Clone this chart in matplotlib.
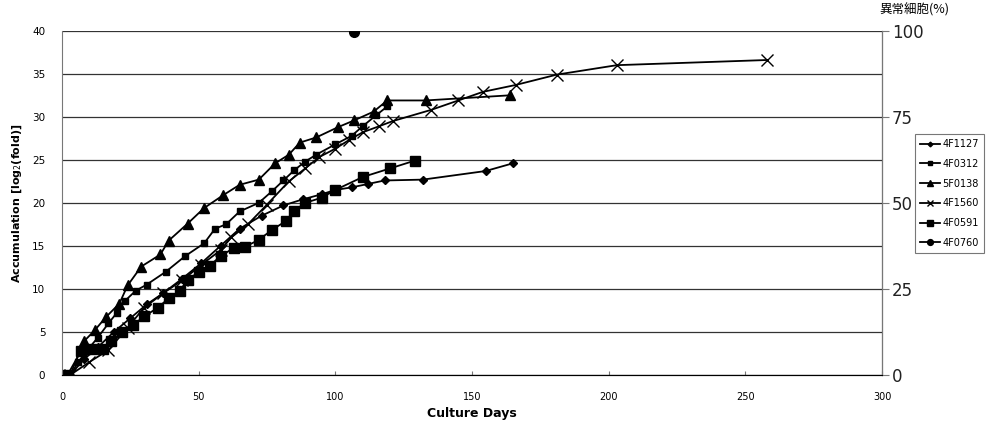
import matplotlib
matplotlib.use('Agg')
import matplotlib.pyplot as plt

plt.rcParams['font.family'] = ['DejaVu Sans', 'Noto Sans CJK JP']

# ---- data (culture day, accumulation log2 fold) ----
d_4F1127 = [3, 8, 13, 19, 25, 31, 37, 44, 51, 58, 65, 73, 81, 88, 95, 100, 106, 112, 118, 132, 155, 165]
v_4F1127 = [0, 1.8, 3.2, 5, 6.6, 8.2, 9.5, 11.2, 13, 15, 17, 18.5, 19.7, 20.4, 21, 21.5, 21.8, 22.2, 22.6, 22.7, 23.7, 24.6]

d_4F0312 = [3, 6, 9, 13, 17, 20, 23, 27, 31, 38, 45, 52, 56, 60, 65, 72, 77, 81, 85, 89, 93, 100, 106, 110, 115, 119]
v_4F0312 = [0, 1.5, 2.8, 4.3, 6, 7.2, 8.6, 9.8, 10.5, 12, 13.8, 15.3, 17, 17.5, 19, 20, 21.4, 22.6, 23.8, 24.8, 25.6, 26.8, 27.8, 28.9, 30.2, 31.2]

d_5F0138 = [3, 8, 12, 16, 21, 24, 29, 36, 39, 46, 52, 59, 65, 72, 78, 83, 87, 93, 101, 107, 114, 119, 133, 164]
v_5F0138 = [0, 3.9, 5.2, 6.7, 8.3, 10.4, 12.6, 14, 15.6, 17.6, 19.4, 20.9, 22.1, 22.7, 24.6, 25.6, 27, 27.6, 28.8, 29.6, 30.6, 31.9, 31.9, 32.5]

d_4F1560 = [3, 10, 17, 24, 30, 37, 44, 51, 58, 62, 68, 75, 83, 89, 94, 100, 105, 110, 116, 121, 135, 145, 154, 166, 181, 203, 258]
v_4F1560 = [0, 1.5, 2.9, 5.5, 7.8, 9.5, 11, 12.8, 14.5, 16, 17.5, 19.8, 22.5, 24, 25.3, 26.3, 27.3, 28.2, 28.9, 29.5, 30.8, 31.9, 32.9, 33.7, 34.9, 36, 36.6]

d_4F0591 = [2, 7, 11, 15, 18, 22, 26, 30, 35, 39, 43, 46, 50, 54, 58, 63, 67, 72, 77, 82, 85, 89, 95, 100, 110, 120, 129]
v_4F0591 = [0, 2.8, 3, 3, 3.9, 5, 5.8, 6.8, 7.8, 8.9, 9.8, 11, 12, 12.7, 13.8, 14.8, 14.9, 15.7, 16.9, 17.9, 19.1, 20, 20.6, 21.5, 23, 24, 24.9]

# single point, abnormal cells (%) on the right axis
d_4F0760 = [107]
v_4F0760 = [99.5]

fig = plt.figure(figsize=(10.08, 4.33), dpi=100)
ax = fig.add_axes([0.0615, 0.134, 0.8135, 0.795])
ax2 = ax.twinx()

kw = dict(color='black', lw=1.3)
h1, = ax.plot(d_4F1127, v_4F1127, marker='D', ms=4, label='4F1127', **kw)
h2, = ax.plot(d_4F0312, v_4F0312, marker='s', ms=5, label='4F0312', **kw)
h3, = ax.plot(d_5F0138, v_5F0138, marker='^', ms=7, label='5F0138', **kw)
h4, = ax.plot(d_4F1560, v_4F1560, marker='x', ms=8, mew=1.0, label='4F1560', **kw)
h5, = ax.plot(d_4F0591, v_4F0591, marker='s', ms=7, label='4F0591', **kw)
h6, = ax2.plot(d_4F0760, v_4F0760, marker='o', ms=7, label='4F0760', **kw)

ax.set_xlim(0, 300)
ax.set_ylim(0, 40)
ax2.set_ylim(0, 100)
ax.set_xticks(range(0, 301, 50))
ax.set_yticks(range(0, 41, 5))
ax2.set_yticks(range(0, 101, 25))
ax.yaxis.grid(True, color='#333333', lw=0.9)
ax.set_axisbelow(True)

ax.spines['top'].set_visible(False)
ax2.spines['top'].set_visible(False)
ax.spines['left'].set_color('#777777')
ax2.spines['left'].set_visible(False)
ax2.spines['right'].set_color('#777777')
ax.spines['bottom'].set_color('#333333')

ax.tick_params(axis='x', direction='in', length=3, labelsize=7, pad=12, color='#777777')
ax.tick_params(axis='y', length=0, labelsize=7.5, pad=12)
ax2.tick_params(axis='y', length=5, labelsize=12, pad=2, color='#777777', labelcolor='#222222')

ax.set_xlabel('Culture Days', fontsize=9, fontweight='bold', labelpad=4)
ax.set_ylabel('Accumulation [log$_2$(fold)]', fontsize=8, fontweight='bold', labelpad=6)
fig.text(0.907, 0.978, '異常細胞(%)', fontsize=9, ha='center', va='center',
         family=['Noto Sans CJK JP', 'DejaVu Sans'])

leg = fig.legend(handles=[h1, h2, h3, h4, h5, h6], loc='upper left',
                 bbox_to_anchor=(0.908, 0.69), fontsize=7, frameon=True,
                 fancybox=False, edgecolor='#555555', handlelength=2.0,
                 labelspacing=1.0, borderpad=0.5, handletextpad=0.3,
                 borderaxespad=0, markerscale=0.6)
leg.get_frame().set_linewidth(0.8)

fig.savefig('out.png', dpi=100)
